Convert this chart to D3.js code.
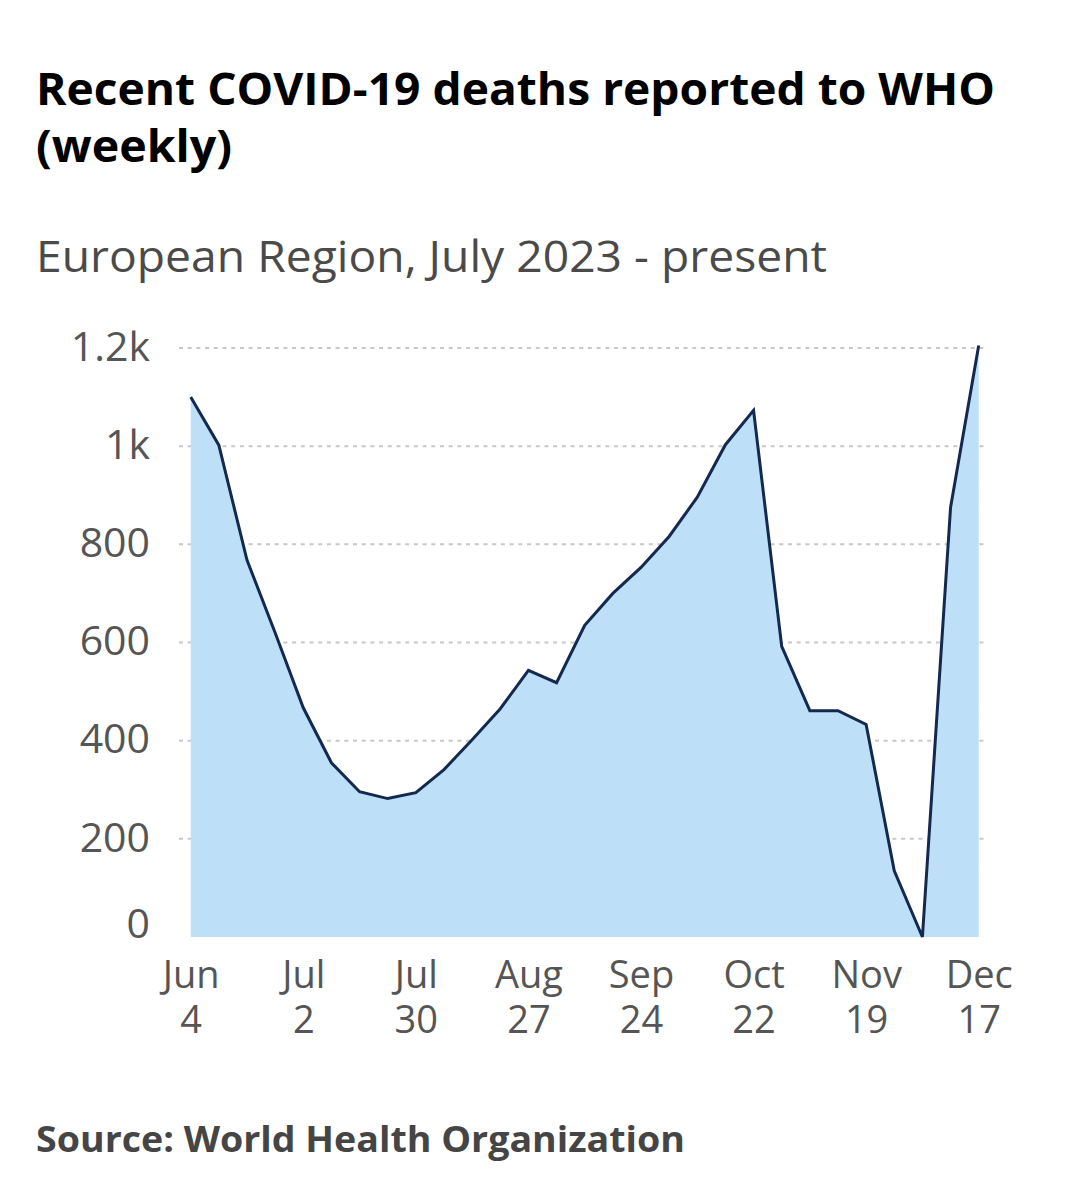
<!DOCTYPE html>
<html><head><meta charset="utf-8">
<script src="https://cdn.jsdelivr.net/npm/d3@7"></script>
<style>body{margin:0;background:#fff}svg{display:block}text{font-family:"Open Sans",sans-serif}</style>
</head><body><div id="chart"></div>
<script>
const titleLines = ["Recent COVID-19 deaths reported to WHO", "(weekly)"];
const subtitle = "European Region, July 2023 - present";
const source = "Source: World Health Organization";
const startDate = "2023-06-04";
const weeklyDeaths = [1100, 1002, 768, 620, 467, 355, 296, 282, 294, 341, 402, 465, 543, 518, 635, 700, 753, 816, 896, 1003, 1073, 592, 461, 461, 433, 135, 0, 875, 1205];
const yTicks = [0, 200, 400, 600, 800, 1000, 1200];
const yTickLabels = ["0", "200", "400", "600", "800", "1k", "1.2k"];
const xTickWeeks = [0, 4, 8, 12, 16, 20, 24, 28];
const xTickLabels = [["Jun","4"],["Jul","2"],["Jul","30"],["Aug","27"],["Sep","24"],["Oct","22"],["Nov","19"],["Dec","17"]];

const W = 1083, H = 1200;
const svg = d3.select("#chart").append("svg").attr("width", W).attr("height", H);
const parse = d3.timeParse("%Y-%m-%d");
const d0 = parse(startDate);
const data = weeklyDeaths.map((v, i) => ({date: d3.timeWeek.offset(d0, i), v}));

const x = d3.scaleTime().domain([data[0].date, data[data.length-1].date]).range([190.7, 978.7]);
const y = d3.scaleLinear().domain([0, 1200]).range([937, 348]);

// titles
const t = svg.append("text").attr("x", 36).attr("fill", "#000").attr("font-weight", 700).attr("font-size", 44);
t.append("tspan").attr("x", 36).attr("y", 105).text(titleLines[0]).attr("textLength", 959).attr("lengthAdjust", "spacingAndGlyphs");
t.append("tspan").attr("x", 36).attr("y", 162).text(titleLines[1]).attr("textLength", 196).attr("lengthAdjust", "spacingAndGlyphs");
svg.append("text").attr("x", 36).attr("y", 272).attr("font-size", 44).attr("fill", "#4a4a4a")
  .attr("textLength", 791).attr("lengthAdjust", "spacingAndGlyphs").text(subtitle);

// gridlines
const grid = svg.append("g");
grid.selectAll("line").data(yTicks.slice(1)).join("line")
  .attr("x1", 179).attr("x2", 988).attr("y1", d => y(d)).attr("y2", d => y(d))
  .attr("stroke", "#c8c8c8").attr("stroke-width", 2).attr("stroke-dasharray", "4,4.7");

// area and line
svg.append("path").datum(data)
  .attr("d", d3.area().x(d => x(d.date)).y0(y(0)).y1(d => y(d.v)))
  .attr("fill", "#bde0f8");
svg.append("path").datum(data)
  .attr("d", d3.line().x(d => x(d.date)).y(d => y(d.v)))
  .attr("fill", "none").attr("stroke", "#13294f").attr("stroke-width", 3).attr("stroke-linejoin", "miter");

// y axis
const yAxis = d3.axisLeft(y).tickValues(yTicks).tickSize(0).tickPadding(0)
  .tickFormat((d, i) => yTickLabels[i]);
const ya = svg.append("g").attr("transform", "translate(150,0)").call(yAxis);
ya.select(".domain").remove();
ya.selectAll("text").attr("font-size", 41).attr("fill", "#555").attr("font-family", "Open Sans")
  .attr("dy", d => d === 0 ? "0" : "0.3em");

// x axis
const xAxis = d3.axisBottom(x).tickValues(xTickWeeks.map(w => d3.timeWeek.offset(d0, w))).tickSize(0).tickFormat("");
const xa = svg.append("g").attr("transform", `translate(0,${y(0)})`).call(xAxis);
xa.select(".domain").remove();
xa.selectAll(".tick").each(function(d, i) {
  const g = d3.select(this);
  g.selectAll("text").remove();
  const tx = g.append("text").attr("text-anchor", "middle").attr("font-size", 38).attr("fill", "#555");
  tx.append("tspan").attr("x", 0).attr("y", 51).text(xTickLabels[i][0]);
  tx.append("tspan").attr("x", 0).attr("y", 96).text(xTickLabels[i][1]);
});

svg.append("text").attr("x", 36).attr("y", 1152).attr("font-size", 35).attr("font-weight", 700)
  .attr("fill", "#454545").attr("textLength", 649).attr("lengthAdjust", "spacingAndGlyphs").text(source);
</script></body></html>
